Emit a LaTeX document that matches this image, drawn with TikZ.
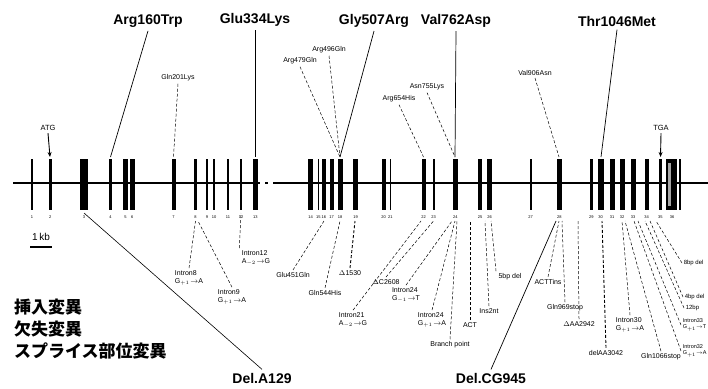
\documentclass[tikz,border=0pt]{standalone}
\usepackage{fontspec}
\setmainfont{Liberation Sans}
\newfontfamily\jpfont{Noto Sans CJK JP}
\usetikzlibrary{arrows.meta}
\tikzset{
  big/.style={font=\fontsize{14}{14}\selectfont\bfseries, inner sep=0.5pt, outer sep=3pt},
  small/.style={font=\fontsize{7}{8}\selectfont, inner sep=0.5pt, outer sep=2pt, align=left},
  edge/.style={font=\fontsize{6}{7}\selectfont, inner sep=0.3pt, outer sep=1.5pt, align=left, anchor=west},
  num/.style={font=\fontsize{4}{4}\selectfont, inner sep=0pt},
  lead/.style={line width=0.5pt, densely dashed},
  mainlead/.style={line width=0.7pt},
  exon/.style={fill=black},
  jp/.style={font=\jpfont\bfseries\fontsize{17}{17}\selectfont, anchor=west, inner sep=0pt},
}
\begin{document}
\begin{tikzpicture}[x=1pt,y=-1pt]
\useasboundingbox (0,0) rectangle (708,388);
% main line
\draw[line width=1.1pt] (13,183) -- (259.5,183) (265,183) -- (268,183) (273,183) -- (708,183);
% exons
\foreach \a/\b/\n in {31/33/1,49/51.5/2,80/88/3,109/112/4,123/128/5,130/134.5/6,171.5/175.5/7,194/197/8,206/208/9,213/215/10,227/229/11,240/242/12,253/257.5/13,308/313/14,317.5/319/15,322/325.5/16,329.5/333.5/17,337.5/342.5/18,353/358/19,381.5/385.5/20,389.5/391/21,421.5/425.5/22,432.5/434.5/23,453/457.5/24,478/482/25,487/492/26,529.5/531.5/27,557/561.5/28,590/592.5/29,597.5/603.5/30,609.5/614.5/31,619.5/624.5/32,630.5/635.5/33,644.5/648.5/34,659/661.5/35}{
  \fill[exon] (\a,159) rectangle (\b,210);
  \node[num] (n\n) at ({(\a+\b)/2},217) {\n};
}
\fill[exon] (666,159) rectangle (677,210);
\fill[gray!70] (668,163) rectangle (671,206);
\fill[exon] (679,159) rectangle (680.5,210);
\node[num] (n36) at (672,217) {36};
% exon anchor coordinates
\coordinate (t2) at (50,157);
\coordinate (t4) at (110.5,157);
\coordinate (t7) at (173.5,157);
\coordinate (t13) at (255,157);
\coordinate (t18) at (340,157);
\coordinate (t22) at (423.5,157);
\coordinate (t24) at (455,157);
\coordinate (t28) at (559,157);
\coordinate (t30) at (601,157);
\coordinate (t35) at (660.5,157);
\coordinate (b3) at (84,213);
\coordinate (b8) at (195.5,221);
\coordinate (b8b) at (198,221);
\coordinate (b12) at (241,213);
\coordinate (b16) at (324,221);
\coordinate (b18) at (340,221);
\coordinate (b19) at (355,221);
\coordinate (b22) at (421,221);
\coordinate (b23) at (433.5,221);
\coordinate (b24a) at (452,221);
\coordinate (b24b) at (455,221);
\coordinate (b24c) at (457,221);
\coordinate (b25) at (470,221);
\coordinate (b26) at (485,221);
\coordinate (b26b) at (491,221);
\coordinate (b28) at (556,221);
\coordinate (b28b) at (559,221);
\coordinate (b28c) at (562,221);
\coordinate (b29) at (578,221);
\coordinate (b30) at (602,221);
\coordinate (b32) at (622,221);
\coordinate (b32b) at (625,221);
\coordinate (b33) at (634,221);
\coordinate (b33b) at (638,221);
\coordinate (b34) at (645,221);
\coordinate (b34b) at (650,221);
\coordinate (b35) at (656,221);
% top labels
\node[small, font=\fontsize{7.5}{8}\selectfont] (atg) at (48,128) {ATG};
\draw[-{Stealth[length=5pt,width=4pt]}, line width=0.9pt] (atg.south) -- (t2);
\node[small, font=\fontsize{7.5}{8}\selectfont] (tga) at (661,128) {TGA};
\draw[-{Stealth[length=5pt,width=4pt]}, line width=0.9pt] (tga.south) -- (t35);
\node[big] (m160) at (148,21) {Arg160Trp};
\draw[mainlead] (m160.south) -- (t4);
\node[big] (m334) at (255,20) {Glu334Lys};
\draw[mainlead] (m334.south) -- (t13);
\node[big] (m507) at (374,21) {Gly507Arg};
\draw[mainlead] (m507.south) -- (t18);
\node[big] (m762) at (456,21) {Val762Asp};
\draw[mainlead] (m762.south) -- (t24);
\node[big] (m1046) at (617,21) {Thr1046Met};
\draw[mainlead] (m1046.south) -- (t30);
\node[small] (s1) at (178,78) {Gln201Lys};
\draw[lead] (s1.south) -- (t7);
\node[small] (s2) at (329,50) {Arg496Gln};
\draw[lead] (s2.south) -- (t18);
\node[small] (s3) at (300,61) {Arg479Gln};
\draw[lead] (s3.south) -- (t18);
\node[small] (s4) at (427,87) {Asn755Lys};
\draw[lead] (s4.south) -- (t24);
\node[small] (s5) at (399,99) {Arg654His};
\draw[lead] (s5.south) -- (t22);
\node[small] (s6) at (535,73) {Val906Asn};
\draw[lead] (s6.south) -- (t28);
% scale
\node[font=\fontsize{10}{10}\selectfont, inner sep=0pt] (kb) at (41,237) {1\,kb};
\draw[line width=1.6pt] (30,247) -- (52,247);
% legend
\node[jp] (j1) at (14,307) {挿入変異};
\node[jp] (j2) at (14,329) {欠失変異};
\node[jp] (j3) at (14,351) {スプライス部位変異};
% bottom big labels
\node[big] (d129) at (262,378) {Del.A129};
\draw[mainlead, line width=0.6pt] (b3) -- (d129.north);
\node[big] (d945) at (491,378) {Del.CG945};
\draw[mainlead] (d945.north) -- (b28);
% bottom small labels
\node[small] (i8) at (189,278) {Intron8\\G$_{+1}\!\to$A};
\draw[lead] (i8.north) -- (b8);
\node[small] (i9) at (232,297) {Intron9\\G$_{+1}\!\to$A};
\draw[lead] (i9.north) -- (b8b);
\node[small] (i12) at (256,258) {Intron12\\A$_{-2}\!\to$G};
\draw[lead] (i12.north west) -- (b12);
\node[small] (g451) at (293,275) {Glu451Gln};
\draw[lead] (g451.north) -- (b16);
\node[small] (g544) at (325,293) {Gln544His};
\draw[lead] (g544.north) -- (b18);
\node[small] (d1530) at (350,273) {$\Delta$1530};
\draw[lead, line width=0.9pt] (d1530.north) -- (b19);
\node[small] (i21) at (353,320) {Intron21\\A$_{-2}\!\to$G};
\draw[lead] (i21.north) -- (b22);
\node[small] (c2608) at (386,282) {$\Delta$C2608};
\draw[lead] (c2608.north) -- (b23);
\node[small] (i24a) at (406,295) {Intron24\\G$_{-1}\!\to$T};
\draw[lead] (i24a.north) -- (b24a);
\node[small] (i24b) at (432,320) {Intron24\\G$_{+1}\!\to$A};
\draw[lead] (i24b.north) -- (b24b);
\node[small] (bp) at (450,345) {Branch point};
\draw[lead] (bp.north) -- (b24c);
\node[small] (act) at (470,325) {ACT};
\draw[lead] (act.north) -- (b25);
\node[small] (ins2) at (489,311) {Ins2nt};
\draw[lead] (ins2.north) -- (b26);
\node[small] (bp5) at (510,277) {5bp del};
\draw[lead] (bp5.north west) -- (b26b);
\node[small] (cti) at (548,282) {ACTTins};
\draw[lead] (cti.north) -- (b28b);
\node[small] (q969) at (565,308) {Gln969stop};
\draw[lead] (q969.north) -- (b28c);
\node[small] (daa) at (579,324) {$\Delta$AA2942};
\draw[lead] (daa.north) -- (b29);
\node[small] (aa3042) at (606,353) {delAA3042};
\draw[lead, line width=0.9pt] (aa3042.north) -- (b30);
\node[small] (i30) at (630,325) {Intron30\\G$_{+1}\!\to$A};
\draw[lead] (i30.north) -- (b32);
\node[small] (q1066) at (661,357) {Gln1066stop};
\draw[lead] (q1066.north) -- (b32b);
\node[edge] (bp8) at (682,263) {8bp del};
\draw[lead] (bp8.west) -- (b35);
\node[edge] (bp4) at (683,297) {4bp del};
\draw[lead] (bp4.west) -- (b34b);
\node[edge] (bp12) at (684,308) {12bp};
\draw[lead] (bp12.west) -- (b34);
\node[edge, font=\fontsize{5.5}{6.5}\selectfont] (i33) at (681,325) {Intron33\\G$_{+1}{\to}$T};
\draw[lead] (i33.west) -- (b33b);
\node[edge, font=\fontsize{5.5}{6.5}\selectfont] (i32) at (681,351) {Intron32\\G$_{+1}{\to}$A};
\draw[lead] (i32.west) -- (b33);
\end{tikzpicture}
\end{document}
